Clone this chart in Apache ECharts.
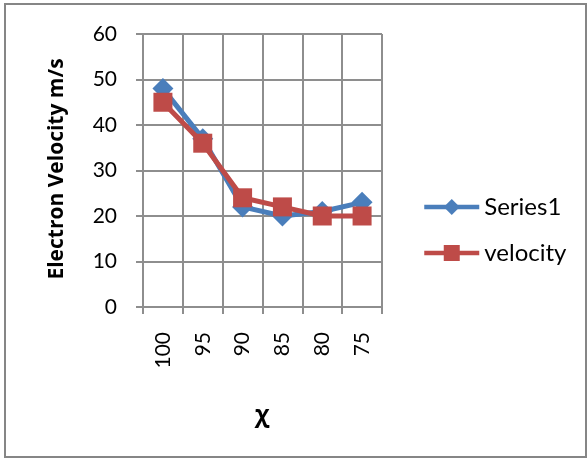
<!DOCTYPE html>
<html>
<head>
<meta charset="utf-8">
<script src="https://cdn.jsdelivr.net/npm/echarts@6/dist/echarts.min.js"></script>
<style>
  html, body { margin: 0; padding: 0; background: #fff; }
  #chart { width: 588px; height: 459px; }
</style>
</head>
<body>
<div id="chart"></div>
<script>
// Electron velocity against angle readings
const categories = ['100', '95', '90', '85', '80', '75'];
const series1Values = [48, 37, 22, 20, 21, 23];
const velocityValues = [45, 36, 24, 22, 20, 20];
const yTicks = { min: 0, max: 60, interval: 10 };

const FONT = 'Lato';
const GRID_COLOR = '#8e8e8e';
const BLUE = '#4a7ebb';
const RED = '#be4b48';

const chart = echarts.init(document.getElementById('chart'), null, { renderer: 'canvas' });

chart.setOption({
  backgroundColor: '#ffffff',
  animation: false,
  grid: { left: 143, right: 206, top: 34, bottom: 152, containLabel: false },
  xAxis: {
    type: 'category',
    data: categories,
    boundaryGap: true,
    axisLine: { show: true, lineStyle: { color: GRID_COLOR, width: 2 } },
    axisTick: { show: true, alignWithLabel: false, interval: 0, length: 7, lineStyle: { color: GRID_COLOR, width: 2 } },
    splitLine: { show: true, interval: 0, lineStyle: { color: GRID_COLOR, width: 2 } },
    axisLabel: {
      interval: 0, rotate: 90, margin: 25,
      color: '#000', fontFamily: FONT, fontSize: 21
    }
  },
  yAxis: {
    type: 'value',
    min: yTicks.min, max: yTicks.max, interval: yTicks.interval,
    axisLine: { show: true, lineStyle: { color: GRID_COLOR, width: 2 } },
    axisTick: { show: true, length: 7, lineStyle: { color: GRID_COLOR, width: 2 } },
    splitLine: { show: true, lineStyle: { color: GRID_COLOR, width: 2 } },
    axisLabel: { margin: 26, color: '#000', fontFamily: FONT, fontSize: 21 }
  },
  legend: {
    orient: 'vertical',
    left: 422, top: 195,
    padding: 0,
    itemWidth: 55, itemHeight: 20, itemGap: 22,
    textStyle: { color: '#000', fontFamily: FONT, fontSize: 24, lineHeight: 24 },
    data: [
      { name: 'Series1', itemStyle: { color: BLUE }, lineStyle: { color: BLUE, width: 4.5 } },
      { name: 'velocity', itemStyle: { color: RED }, lineStyle: { color: RED, width: 4.5 } }
    ]
  },
  series: [
    {
      name: 'Series1',
      type: 'line',
      data: series1Values,
      symbol: 'diamond',
      symbolSize: 21,
      lineStyle: { color: BLUE, width: 5 },
      itemStyle: { color: BLUE },
      z: 2
    },
    {
      name: 'velocity',
      type: 'line',
      data: velocityValues,
      symbol: 'rect',
      symbolSize: 19,
      lineStyle: { color: RED, width: 5 },
      itemStyle: { color: RED },
      z: 3
    }
  ],
  graphic: [
    {
      type: 'rect',
      shape: { x: 5, y: 4, width: 581, height: 453 },
      style: { fill: 'none', stroke: '#868686', lineWidth: 2 },
      silent: true
    },
    {
      type: 'text',
      x: 57, y: 169,
      rotation: Math.PI / 2,
      style: {
        text: 'Electron Velocity m/s',
        fill: '#000',
        font: 'bold 21px "Open Sans"',
        align: 'center',
        verticalAlign: 'middle'
      }
    },
    {
      type: 'text',
      x: 262, y: 415,
      style: {
        text: 'χ',
        fill: '#000',
        font: 'bold 24px "Open Sans"',
        align: 'center',
        verticalAlign: 'middle'
      }
    }
  ]
});
</script>
</body>
</html>
